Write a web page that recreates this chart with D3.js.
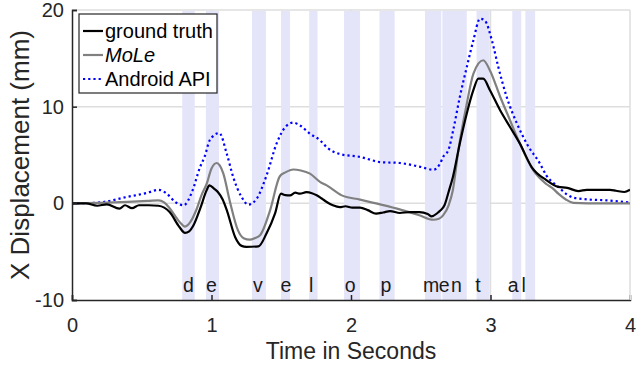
<!DOCTYPE html>
<html>
<head>
<meta charset="utf-8">
<script src="https://cdn.jsdelivr.net/npm/d3@7"></script>
<style>
  body { margin: 0; background: #fff; }
  text { font-family: "Liberation Sans", Arial, Helvetica, sans-serif; }
</style>
</head>
<body>
<div id="chart"></div>
<script>
// ground truth displacement (time in s, value in mm)
const gtTime = [0, 0.1, 0.18, 0.25, 0.34, 0.38, 0.43, 0.48, 0.55, 0.62, 0.70, 0.77, 0.81, 0.84, 0.87, 0.92, 0.965, 0.985, 1.02, 1.047, 1.08, 1.11, 1.17, 1.216, 1.25, 1.336, 1.395, 1.455, 1.498, 1.53, 1.563, 1.6, 1.634, 1.68, 1.72, 1.754, 1.79, 1.826, 1.87, 1.92, 1.96, 2.01, 2.065, 2.12, 2.18, 2.23, 2.28, 2.35, 2.42, 2.49, 2.55, 2.578, 2.62, 2.64, 2.67, 2.70, 2.73, 2.78, 2.83, 2.877, 2.913, 2.948, 2.996, 3.07, 3.14, 3.21, 3.295, 3.40, 3.486, 3.55, 3.63, 3.69, 3.78, 3.857, 3.9, 3.96, 4.0];
const gtX = [0, 0, -0.25, -0.1, -0.55, -0.2, -0.5, -0.2, -0.2, -0.25, -0.9, -2.45, -3.05, -2.9, -2.3, -0.5, 1.35, 1.85, 1.5, 1.15, 0.4, -0.72, -3.5, -4.4, -4.5, -4.45, -3.1, -1.07, 1.0, 0.85, 0.83, 1.1, 1.0, 1.15, 1.05, 0.83, 0.5, 0.14, -0.2, -0.4, -0.3, -0.45, -0.45, -0.7, -1.07, -0.95, -0.8, -1.0, -0.9, -0.9, -1.1, -1.35, -1.0, -0.75, -0.2, 1.2, 2.7, 6.2, 9.3, 11.7, 12.9, 12.9, 11.7, 9.6, 7.9, 6.2, 3.75, 2.4, 1.7, 1.6, 1.27, 1.4, 1.4, 1.4, 1.3, 1.17, 1.4];

// MoLe estimate
const moleTime = [0, 0.2, 0.4, 0.55, 0.62, 0.66, 0.70, 0.77, 0.81, 0.85, 0.89, 0.93, 0.965, 1.0, 1.037, 1.06, 1.085, 1.13, 1.19, 1.23, 1.276, 1.31, 1.348, 1.42, 1.49, 1.53, 1.586, 1.64, 1.706, 1.78, 1.826, 1.93, 2.065, 2.18, 2.33, 2.49, 2.59, 2.63, 2.66, 2.70, 2.73, 2.77, 2.83, 2.877, 2.948, 2.996, 3.07, 3.14, 3.21, 3.307, 3.40, 3.45, 3.486, 3.54, 3.594, 3.7, 4.0];
const moleX = [0, 0.05, 0.15, 0.25, 0.3, 0.1, -0.5, -1.9, -2.4, -1.9, -0.72, 0.9, 2.0, 3.6, 4.17, 3.9, 3.07, 0.3, -2.8, -3.6, -3.75, -3.6, -3.3, -0.72, 2.8, 3.2, 3.5, 3.4, 3.07, 2.2, 1.86, 0.85, 0.38, 0.0, -0.55, -1.24, -1.7, -1.6, -1.24, -0.2, 1.35, 5.5, 10.3, 13.4, 14.8, 13.75, 11.0, 8.6, 6.2, 3.4, 2.0, 1.5, 1.0, 0.4, 0.05, 0.0, 0.0];

// Android API estimate
const apiTime = [0, 0.1, 0.225, 0.39, 0.535, 0.62, 0.68, 0.74, 0.80, 0.86, 0.918, 0.95, 0.99, 1.056, 1.11, 1.156, 1.216, 1.264, 1.324, 1.395, 1.467, 1.53, 1.586, 1.64, 1.706, 1.78, 1.826, 1.92, 2.065, 2.21, 2.35, 2.49, 2.59, 2.638, 2.66, 2.698, 2.733, 2.78, 2.83, 2.877, 2.925, 2.96, 3.01, 3.056, 3.116, 3.19, 3.26, 3.355, 3.40, 3.486, 3.55, 3.594, 3.69, 3.833, 4.0];
const apiX = [0, 0.02, 0.14, 0.65, 1.07, 1.4, 1.0, 0.14, -0.2, 1.17, 3.75, 4.8, 6.6, 7.27, 5.1, 2.7, 0.65, -0.14, 0.48, 2.9, 6.2, 7.9, 8.35, 8.0, 7.2, 6.5, 5.8, 5.1, 4.8, 4.27, 4.17, 3.8, 3.48, 4.1, 4.8, 5.5, 7.6, 11.0, 14.1, 16.85, 19.1, 18.9, 16.85, 14.1, 11.0, 8.24, 6.17, 4.1, 2.9, 1.7, 0.9, 0.59, 0.41, 0.31, 0.07];

// keystroke windows (s) and typed letters
const bandStart = [0.79, 0.96, 1.29, 1.498, 1.70, 1.95, 2.204, 2.53, 2.655, 2.90, 3.156, 3.25];
const bandEnd   = [0.88, 1.054, 1.39, 1.563, 1.76, 2.065, 2.313, 2.647, 2.83, 2.994, 3.22, 3.32];
const letters   = ["d", "e", "v", "e", "l", "o", "p", "m", "e", "n", "t", "a", "l"];
const letterT   = [0.834, 0.999, 1.333, 1.534, 1.715, 1.995, 2.251, 2.575, 2.668, 2.755, 2.91, 3.163, 3.238];

const xTicks = [0, 1, 2, 3, 4];
const yTicks = [-10, 0, 10, 20];
const seriesNames = ["ground truth", "MoLe", "Android API"];

const W = 636, H = 368;
const margin = {top: 10, right: 6, bottom: 68, left: 72};
const width = W - margin.left - margin.right,
      height = H - margin.top - margin.bottom;

const svg = d3.select("#chart").append("svg")
  .attr("width", W).attr("height", H);
const g = svg.append("g")
  .attr("transform", "translate(" + margin.left + "," + margin.top + ")");

const x = d3.scaleLinear().domain([0, 4]).range([0, width]);
const y = d3.scaleLinear().domain([-10, 20]).range([height, 0]);

// grid
g.append("g").selectAll("line.gx").data(xTicks.slice(1)).enter().append("line")
  .attr("x1", d => x(d)).attr("x2", d => x(d))
  .attr("y1", 0).attr("y2", height)
  .attr("stroke", "#dedede").attr("stroke-width", 1.5);
g.append("g").selectAll("line.gy").data(yTicks.slice(1)).enter().append("line")
  .attr("x1", 0).attr("x2", width)
  .attr("y1", d => y(d)).attr("y2", d => y(d))
  .attr("stroke", "#dedede").attr("stroke-width", 1.5);

// keystroke bands
g.append("g").selectAll("rect").data(bandStart).enter().append("rect")
  .attr("x", (d) => x(d))
  .attr("width", (d, i) => x(bandEnd[i]) - x(d))
  .attr("y", 1).attr("height", height - 1)
  .attr("fill", "#e5e5fa");

g.append("g").selectAll("text").data(letters).enter().append("text")
  .attr("x", (d, i) => x(letterT[i]))
  .attr("y", height - 8)
  .attr("text-anchor", "middle")
  .attr("font-size", 19.5)
  .attr("fill", "#1a1a1a")
  .text(d => d);

// curves
g.append("clipPath").attr("id", "clip").append("rect")
  .attr("width", width).attr("height", height);

const line = d3.line().curve(d3.curveMonotoneX);
const plot = g.append("g").attr("clip-path", "url(#clip)");

plot.append("path")
  .attr("d", line(apiTime.map((t, i) => [x(t), y(apiX[i])])))
  .attr("fill", "none").attr("stroke", "#0000ff")
  .attr("stroke-width", 2.2).attr("stroke-dasharray", "2.2,3");
plot.append("path")
  .attr("d", line(moleTime.map((t, i) => [x(t), y(moleX[i])])))
  .attr("fill", "none").attr("stroke", "#808080").attr("stroke-width", 2.2);
plot.append("path")
  .attr("d", line(gtTime.map((t, i) => [x(t), y(gtX[i])])))
  .attr("fill", "none").attr("stroke", "#000").attr("stroke-width", 2.2);

// axes
const xAxis = g.append("g")
  .attr("transform", "translate(0," + height + ")")
  .call(d3.axisBottom(x).tickValues(xTicks).tickSize(-5).tickPadding(18).tickFormat(d => String(d)));
const yAxis = g.append("g")
  .call(d3.axisLeft(y).tickValues(yTicks).tickSize(-5).tickPadding(8).tickFormat(d => String(d)));

[xAxis, yAxis].forEach(a => {
  a.select(".domain").attr("stroke", "#262626").attr("stroke-width", 1.5);
  a.selectAll(".tick line").attr("stroke", "#262626").attr("stroke-width", 1.5);
  a.selectAll(".tick text").attr("font-size", 20).attr("fill", "#262626")
    .attr("font-family", "Liberation Sans, Arial, sans-serif");
});
xAxis.select(".tick:last-of-type line").attr("stroke", "#dedede");
yAxis.select(".tick:last-of-type text").attr("dy", "0.34em");

svg.append("text")
  .attr("x", margin.left + width / 2).attr("y", 359)
  .attr("text-anchor", "middle").attr("font-size", 23).attr("fill", "#262626")
  .text("Time in Seconds");
svg.append("text")
  .attr("transform", "translate(29," + (margin.top + height / 2) + ") rotate(-90)")
  .attr("text-anchor", "middle").attr("font-size", 26).attr("fill", "#262626")
  .text("X Displacement (mm)");

// legend
const legend = svg.append("g").attr("transform", "translate(79,14)");
legend.append("rect").attr("width", 138).attr("height", 79)
  .attr("fill", "#fff").attr("stroke", "#262626").attr("stroke-width", 1.2);
const legColor = ["#000", "#808080", "#0000ff"];
const legRows = legend.selectAll("g.row").data(seriesNames).enter().append("g")
  .attr("transform", (d, i) => "translate(0," + (17 + i * 24) + ")");
legRows.append("line")
  .attr("x1", 4).attr("x2", 24)
  .attr("stroke", (d, i) => legColor[i]).attr("stroke-width", 2.2)
  .attr("stroke-dasharray", (d, i) => i == 2 ? "2.2,3" : null);
legRows.append("text")
  .attr("x", 26).attr("y", 7)
  .attr("font-size", 20)
  .attr("font-style", (d, i) => i == 1 ? "italic" : "normal")
  .text(d => d);
</script>
</body>
</html>
